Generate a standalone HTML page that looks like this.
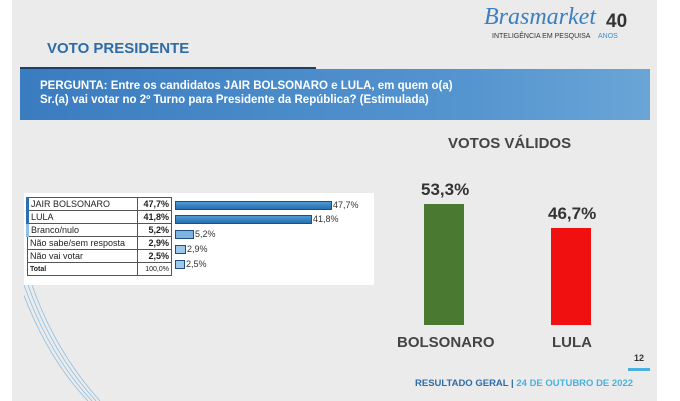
<!DOCTYPE html>
<html><head><style>
body{margin:0;width:680px;height:401px;overflow:hidden;background:#fff;font-family:"Liberation Sans",sans-serif;position:relative}
.a{position:absolute}
.slide{left:12px;top:0;width:645px;height:401px;background:#ebebeb}
.b{font-weight:bold}
td{border:1px solid #555;padding:0 2px;height:12px;font-size:9px;color:#222;white-space:nowrap}
table{border-collapse:collapse}
.bar{position:absolute;height:7px;background:linear-gradient(#4a9ad6,#2a6fae);border:1px solid #1e4f80}
.bl{position:absolute;font-size:9px;color:#333}
</style></head><body>
<div class="a slide"></div>
<svg class="a" style="left:24px;top:285px" width="80" height="116"><g fill="none" stroke="#8fbfe0" stroke-width="0.8"><path d="M0,0 Q25,70 68,116"/><path d="M4,0 Q28,68 72,116"/><path d="M8,0 Q31,66 76,116"/><path d="M-4,0 Q22,72 64,116"/></g></svg>
<div class="a" style="left:484px;top:4px;font-family:'Liberation Serif',serif;font-style:italic;font-size:24px;color:#3d7fc0">Brasmarket</div>
<div class="a b" style="left:606px;top:11px;font-size:19px;color:#333">40</div>
<div class="a" style="left:492px;top:33px;font-size:7px;color:#333">INTELIGÊNCIA EM PESQUISA <span style="color:#3d8fd0;margin-left:6px">ANOS</span></div>
<div class="a b" style="left:47px;top:40px;font-size:15px;color:#2e6ca8">VOTO PRESIDENTE</div>
<div class="a" style="left:20px;top:67px;width:296px;height:3px;background:#1d3f66"></div>
<div class="a" style="left:20px;top:69px;width:630px;height:51px;background:linear-gradient(90deg,#3a7cc0,#5494cf 70%,#6aa5d6)"></div>
<div class="a b" style="left:40px;top:79px;font-size:11.5px;line-height:14px;color:#fff">PERGUNTA: Entre os candidatos JAIR BOLSONARO e LULA, em quem o(a)<br>Sr.(a) vai votar no 2º Turno para Presidente da República? (Estimulada)</div>
<div class="a" style="left:24px;top:193px;width:350px;height:92px;background:#fff"></div>
<table class="a" style="left:26px;top:197px;width:146px">
<tr><td style="border-left:3px solid #2a6fae">JAIR BOLSONARO</td><td class="b" style="text-align:right">47,7%</td></tr>
<tr><td style="border-left:3px solid #2a6fae">LULA</td><td class="b" style="text-align:right">41,8%</td></tr>
<tr><td style="border-left:3px solid #8cc0e6">Branco/nulo</td><td class="b" style="text-align:right">5,2%</td></tr>
<tr><td>Não sabe/sem resposta</td><td class="b" style="text-align:right">2,9%</td></tr>
<tr><td>Não vai votar</td><td class="b" style="text-align:right">2,5%</td></tr>
<tr><td class="b" style="font-size:7px;height:10px">Total</td><td style="font-size:7px;text-align:right">100,0%</td></tr>
</table>
<div class="bar" style="left:175px;top:201px;width:155px"></div><div class="bl" style="left:333px;top:200px">47,7%</div>
<div class="bar" style="left:175px;top:215px;width:135px"></div><div class="bl" style="left:313px;top:214px">41,8%</div>
<div class="bar" style="left:175px;top:230px;width:17px;background:#7db5e0"></div><div class="bl" style="left:195px;top:229px">5,2%</div>
<div class="bar" style="left:175px;top:245px;width:9px;background:#9cc8ea"></div><div class="bl" style="left:187px;top:244px">2,9%</div>
<div class="bar" style="left:175px;top:260px;width:8px;background:#9cc8ea"></div><div class="bl" style="left:186px;top:259px">2,5%</div>
<div class="a b" style="left:448px;top:135px;font-size:15px;color:#444">VOTOS VÁLIDOS</div>
<div class="a b" style="left:421px;top:180px;font-size:17px;color:#333">53,3%</div>
<div class="a" style="left:424px;top:204px;width:40px;height:121px;background:#4a7a32"></div>
<div class="a b" style="left:548px;top:204px;font-size:17px;color:#333">46,7%</div>
<div class="a" style="left:551px;top:228px;width:40px;height:97px;background:#f01010"></div>
<div class="a b" style="left:397px;top:334px;font-size:15px;color:#444">BOLSONARO</div>
<div class="a b" style="left:552px;top:334px;font-size:15px;color:#444">LULA</div>
<div class="a b" style="left:634px;top:353px;font-size:9px;color:#333">12</div>
<div class="a" style="left:628px;top:368px;width:22px;height:3px;background:#4ab0dd"></div>
<div class="a b" style="left:415px;top:378px;font-size:9.5px;color:#2e6ca8">RESULTADO GERAL | <span style="color:#4ab0dd">24 DE OUTUBRO DE 2022</span></div>
</body></html>
